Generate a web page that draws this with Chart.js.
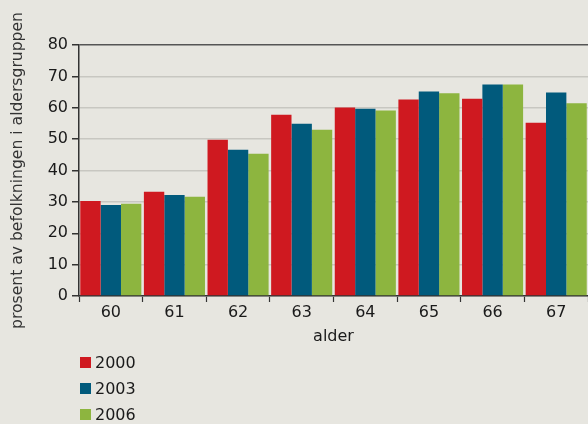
<!DOCTYPE html>
<html>
<head>
<meta charset="utf-8">
<script src="https://cdn.jsdelivr.net/npm/chart.js@4"></script>
<style>
  html, body { margin: 0; padding: 0; background: #e7e6e0; overflow: hidden; }
  #wrap { position: relative; width: 588px; height: 424px; }
  #legend { position: absolute; left: 80px; top: 350px; font-family: 'DejaVu Sans', sans-serif; font-size: 16px; color: #1a1a1a; }
  #legend div { height: 25.7px; display: flex; align-items: center; }
  #legend span.box { display: inline-block; width: 11px; height: 11px; margin-right: 4px; }
</style>
</head>
<body>
<div id="wrap">
  <canvas id="chart" width="588" height="424"></canvas>
  <div id="legend"></div>
</div>
<script>
const ages = ['60', '61', '62', '63', '64', '65', '66', '67']
const years = ['2000', '2003', '2006']
const values2000 = [30.3, 33.2, 49.8, 57.8, 60.1, 62.6, 62.9, 55.2]
const values2003 = [29.0, 32.2, 46.6, 54.9, 59.7, 65.2, 67.4, 64.9]
const values2006 = [29.4, 31.6, 45.3, 53.0, 59.1, 64.6, 67.4, 61.4]
const colors = ['#cf1920', '#015a7c', '#8db53f']

const ctx = document.getElementById('chart').getContext('2d')
const font = { family: "'DejaVu Sans', sans-serif", size: 16 }

const dataPlot = {
    labels: ages,
    datasets: [values2000, values2003, values2006].map((vals, i) => ({
        label: years[i],
        data: vals,
        backgroundColor: colors[i],
        borderWidth: 0,
        categoryPercentage: 0.96,
        barPercentage: 1
    }))
}

const myChart = new Chart(ctx, {
    type: 'bar',
    data: dataPlot,
    options: {
        responsive: false,
        animation: false,
        layout: { padding: { top: 45, right: 0, bottom: 78, left: 0 } },
        plugins: {
            legend: { display: false },
            tooltip: { enabled: false }
        },
        scales: {
            x: {
                offset: true,
                grid: {
                    offset: true,
                    drawOnChartArea: false,
                    tickLength: 6,
                    tickColor: '#333',
                    tickWidth: 1.2
                },
                border: { color: '#333', width: 1.5 },
                ticks: { color: '#1a1a1a', font: font, padding: 1, maxRotation: 0 },
                title: { display: true, text: 'alder', color: '#1a1a1a', font: font, padding: 0 },
                afterFit: scale => { scale.height = 50 }
            },
            y: {
                min: 0,
                max: 80,
                ticks: { stepSize: 10, color: '#1a1a1a', font: font, padding: 4 },
                grid: {
                    color: c => c.tick && c.tick.value === 80 ? '#555' : '#c8c7c1',
                    lineWidth: 1.5,
                    tickLength: 7,
                    tickColor: '#333'
                },
                border: { color: '#333', width: 1.5 },
                title: {
                    display: true,
                    text: 'prosent av befolkningen i aldersgruppen',
                    color: '#333',
                    font: { family: "'DejaVu Sans', sans-serif", size: 15.6 },
                    padding: { top: 9 }
                },
                afterFit: scale => { scale.width = 79 }
            }
        }
    }
})

const legend = document.getElementById('legend')
myChart.data.datasets.forEach(ds => {
    const row = document.createElement('div')
    row.innerHTML = `<span class="box" style="background:${ds.backgroundColor}"></span>${ds.label}`
    legend.appendChild(row)
})
</script>
</body>
</html>
